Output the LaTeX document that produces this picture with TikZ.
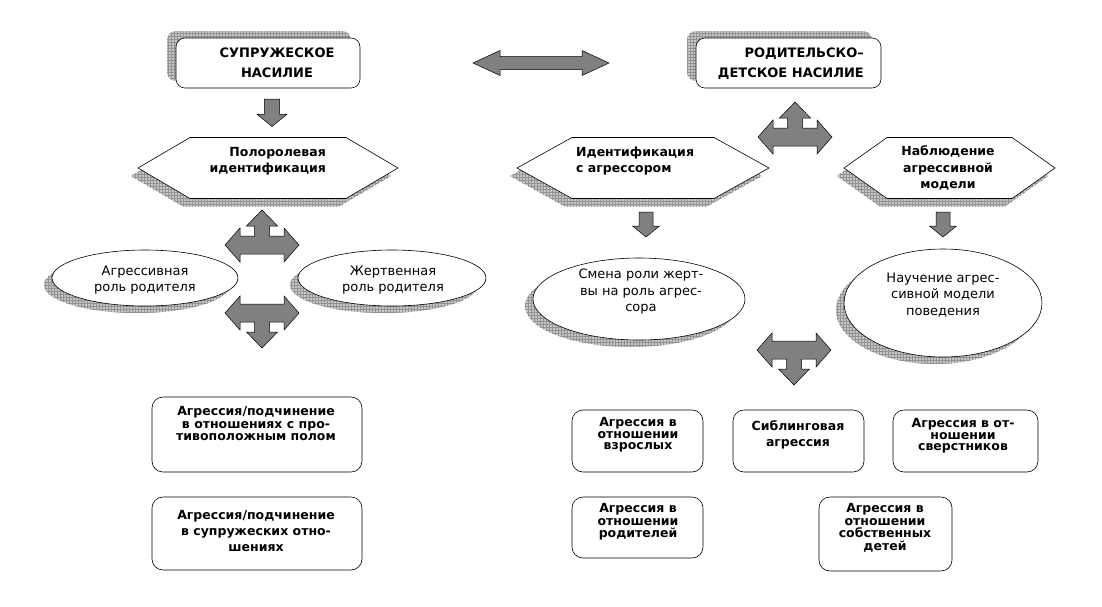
\documentclass[tikz,border=0pt]{standalone}
\usepackage{fontspec}
\setmainfont{DejaVu Sans}
\usetikzlibrary{patterns}
\lineskiplimit=-50pt

\begin{document}
\begin{tikzpicture}[x=1pt, y=-1pt,
	shade box/.style={preaction={fill=gray!45}, pattern=grid, pattern color=gray!85},
	frame/.style={draw=black, fill=white, line width=0.6pt},
	blockarrow/.style={draw=black, fill=gray, line width=0.5pt, line join=miter},
	headtext/.style={font=\bfseries\fontsize{13}{20}\selectfont, inner sep=0pt},
	hextext/.style={font=\bfseries\fontsize{12.5}{16.5}\selectfont, inner sep=0pt},
	ovaltext/.style={font=\fontsize{13}{16.5}\selectfont, inner sep=0pt, align=center},
	boxtext/.style={font=\bfseries\fontsize{12.5}{11.5}\selectfont, inner sep=0pt, align=center},
	loose/.style={font=\bfseries\fontsize{12.5}{16}\selectfont},
	mid/.style={font=\bfseries\fontsize{12.5}{12.5}\selectfont},
	tarrow/.pic={\draw[blockarrow] (-37,0) -- (-22,-17) -- (-22,-9) -- (-7.5,-9) -- (-7.5,-19) -- (-15.5,-19) -- (0,-35) -- (15.5,-19) -- (7.5,-19) -- (7.5,-9) -- (22,-9) -- (22,-17) -- (37,0) -- (22,17) -- (22,9) -- (-22,9) -- (-22,17) -- cycle;},
	downarrow/.pic={\draw[blockarrow] (-7,0) -- (7,0) -- (7,14) -- (13.5,14) -- (0,25) -- (-13.5,14) -- (-7,14) -- cycle;}
	]
		\useasboundingbox (0,0) rectangle (1102,606);
		
		%top boxes
		\fill[shade box, rounded corners=9] (167,31) rectangle (351,81);
		\draw[frame, rounded corners=9] (176,38) rectangle (360,88);
		\node[headtext, align=center] (spouse) at (277,63) {СУПРУЖЕСКОЕ\\НАСИЛИЕ};
		
		\fill[shade box, rounded corners=9] (687,31) rectangle (872,81);
		\draw[frame, rounded corners=9] (696,38) rectangle (881,88);
		\node[headtext, align=right, anchor=east] (parent) at (864,64) {РОДИТЕЛЬСКО–\\ДЕТСКОЕ НАСИЛИЕ};
		
		\draw[blockarrow] (473,63) -- (500,50.5) -- (500,56.5) -- (582,56.5) -- (582,50.5) -- (609,63) -- (582,75.5) -- (582,69.5) -- (500,69.5) -- (500,75.5) -- cycle;
		
		%hexagons
		\foreach \l/\r/\d in {138/398/52, 517/769/55, 844/1055/43}{
			\fill[shade box, shift={(-7,8)}] (\l,168) -- (\l+\d,137.5) -- (\r-\d,137.5) -- (\r,168) -- (\r-\d,198.5) -- (\l+\d,198.5) -- cycle;
			\draw[frame] (\l,168) -- (\l+\d,137.5) -- (\r-\d,137.5) -- (\r,168) -- (\r-\d,198.5) -- (\l+\d,198.5) -- cycle;
		}
		\node[hextext, align=right, anchor=east] (rolehex) at (326,161) {Полоролевая\\идентификация};
		\node[hextext, align=left, anchor=west] (idhex) at (576,161) {Идентификация\\с агрессором};
		\node[hextext, align=center] (obshex) at (948,168) {Наблюдение\\агрессивной\\модели};
		
		%ellipses
		\foreach \cx/\cy/\rx/\ry in {145/278/93/28, 392/278/94/28, 639/299/106/41, 943/303/99/54}{
			\fill[shade box] (\cx-8,\cy+7) ellipse (\rx pt and \ry pt);
			\draw[frame] (\cx,\cy) ellipse (\rx pt and \ry pt);
		}
		\node[ovaltext] (aggrole) at (145,280) {Агрессивная\\роль родителя};
		\node[ovaltext] (victrole) at (393,280) {Жертвенная\\роль родителя};
		\node[ovaltext] (swap) at (641,292) {Смена роли жерт-\\вы на роль агрес-\\сора};
		\node[ovaltext] (learn) at (943,295) {Научение агрес-\\сивной модели\\поведения};
		
		%block arrows
		\pic[scale=1.1] at (272,99) {downarrow};
		\pic at (646,212) {downarrow};
		\pic at (943,212) {downarrow};
		\pic at (795,137) {tarrow};
		\pic at (262,245) {tarrow};
		\pic[yscale=-1] at (262,313) {tarrow};
		\pic[yscale=-1] at (794,350) {tarrow};
		
		%bottom boxes
		\foreach \x/\y/\X/\Y in {152/397/362/472, 152/497/362/570, 572/410/703/472, 733/410/864/472, 893/410/1038/472, 572/497/703/558, 819/497/952/571}{
			\draw[frame, rounded corners=11] (\x,\y) rectangle (\X,\Y);
		}
		\node[boxtext, mid] (oppsex) at (256,424) {Агрессия/подчинение\\в отношениях с про-\\тивоположным полом};
		\node[boxtext, loose] (marital) at (256,531) {Агрессия/подчинение\\в супружеских отно-\\шениях};
		\node[boxtext] (adults) at (638,435) {Агрессия в\\отношении\\взрослых};
		\node[boxtext, loose] (sibling) at (798,435) {Сиблинговая\\агрессия};
		\node[boxtext] (peers) at (963,436) {Агрессия в от-\\ношении\\сверстников};
		\node[boxtext, mid] (parents) at (638,522) {Агрессия в\\отношении\\родителей};
		\node[boxtext, mid] (children) at (885,528) {Агрессия в\\отношении\\собственных\\детей};
\end{tikzpicture}
\end{document}
